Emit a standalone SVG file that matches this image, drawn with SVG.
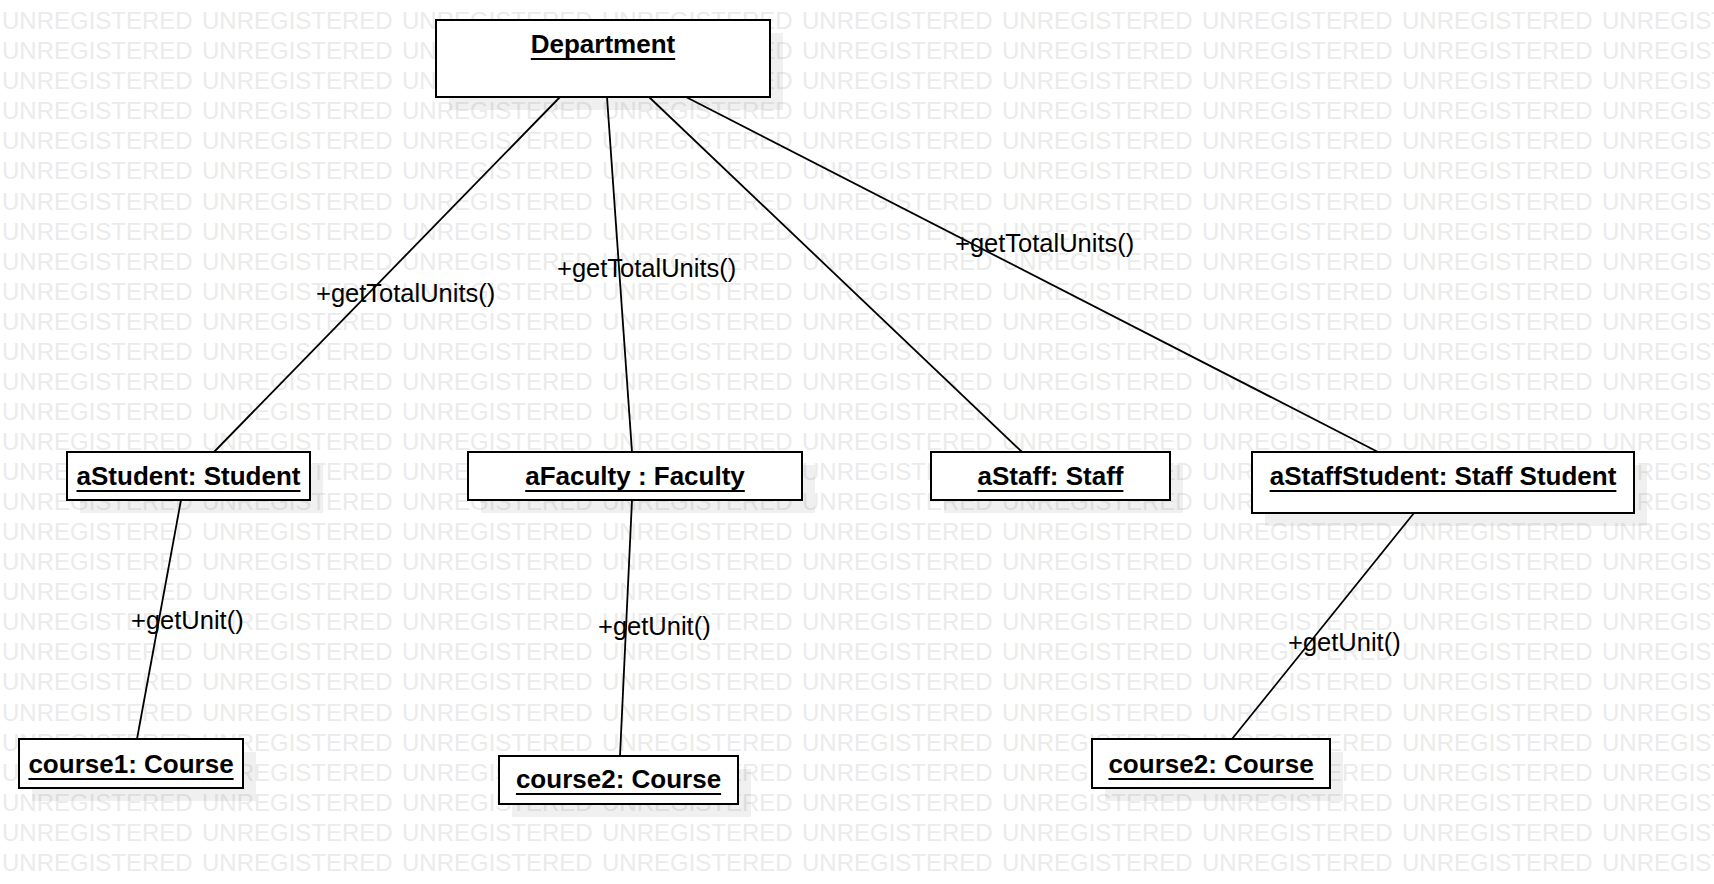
<svg xmlns="http://www.w3.org/2000/svg" xmlns:xlink="http://www.w3.org/1999/xlink" width="1714" height="884" viewBox="0 0 1714 884">
<style>
.wm{font-family:"Liberation Sans",Arial,sans-serif;font-size:24px;fill:#ebebeb}
.shadow{fill:#000;fill-opacity:0.06;stroke:none}
.box{fill:#fff;stroke:#000;stroke-width:2}
.name{font-family:"Liberation Sans",Arial,sans-serif;font-size:26px;font-weight:bold;fill:#000;text-anchor:middle}
.ul{stroke:#000;stroke-width:2}
.conn{stroke:#000;stroke-width:1.8;fill:none}
.lbl{font-family:"Liberation Sans",Arial,sans-serif;font-size:25.5px;fill:#000}
</style>
<defs>
<g id="wmrow">
<text class="wm" x="2" y="0">UNREGISTERED</text>
<text class="wm" x="202" y="0">UNREGISTERED</text>
<text class="wm" x="402" y="0">UNREGISTERED</text>
<text class="wm" x="602" y="0">UNREGISTERED</text>
<text class="wm" x="802" y="0">UNREGISTERED</text>
<text class="wm" x="1002" y="0">UNREGISTERED</text>
<text class="wm" x="1202" y="0">UNREGISTERED</text>
<text class="wm" x="1402" y="0">UNREGISTERED</text>
<text class="wm" x="1602" y="0">UNREGISTERED</text>
</g>
</defs>
<rect x="0" y="0" width="1714" height="884" fill="#fff"/>
<g id="watermark">
<use xlink:href="#wmrow" y="29"/>
<use xlink:href="#wmrow" y="59"/>
<use xlink:href="#wmrow" y="89"/>
<use xlink:href="#wmrow" y="119"/>
<use xlink:href="#wmrow" y="149"/>
<use xlink:href="#wmrow" y="179"/>
<use xlink:href="#wmrow" y="209.5"/>
<use xlink:href="#wmrow" y="239.5"/>
<use xlink:href="#wmrow" y="269.5"/>
<use xlink:href="#wmrow" y="299.5"/>
<use xlink:href="#wmrow" y="329.5"/>
<use xlink:href="#wmrow" y="359.5"/>
<use xlink:href="#wmrow" y="389.5"/>
<use xlink:href="#wmrow" y="420"/>
<use xlink:href="#wmrow" y="450"/>
<use xlink:href="#wmrow" y="480"/>
<use xlink:href="#wmrow" y="510"/>
<use xlink:href="#wmrow" y="540"/>
<use xlink:href="#wmrow" y="570"/>
<use xlink:href="#wmrow" y="600"/>
<use xlink:href="#wmrow" y="630"/>
<use xlink:href="#wmrow" y="660"/>
<use xlink:href="#wmrow" y="690"/>
<use xlink:href="#wmrow" y="720.5"/>
<use xlink:href="#wmrow" y="750.5"/>
<use xlink:href="#wmrow" y="780.5"/>
<use xlink:href="#wmrow" y="810.5"/>
<use xlink:href="#wmrow" y="840.5"/>
<use xlink:href="#wmrow" y="870.5"/>
</g>
<g id="shadows">
<rect class="shadow" x="449" y="33" width="334" height="77"/>
<rect class="shadow" x="80" y="465" width="243" height="48"/>
<rect class="shadow" x="481" y="465" width="334" height="48"/>
<rect class="shadow" x="944" y="465" width="239" height="48"/>
<rect class="shadow" x="1265" y="465" width="382" height="61"/>
<rect class="shadow" x="32" y="752" width="224" height="49"/>
<rect class="shadow" x="512" y="769" width="239" height="48"/>
<rect class="shadow" x="1105" y="752" width="238" height="49"/>
</g>
<g id="connectors">
<line class="conn" x1="560" y1="97" x2="214" y2="452"/>
<line class="conn" x1="607" y1="97" x2="632" y2="452"/>
<line class="conn" x1="649" y1="97" x2="1022" y2="452"/>
<line class="conn" x1="686" y1="97" x2="1378" y2="452"/>
<line class="conn" x1="181" y1="500" x2="137" y2="739"/>
<line class="conn" x1="632" y1="500" x2="620" y2="756"/>
<line class="conn" x1="1414" y1="513" x2="1232" y2="739"/>
<text class="lbl" x="316" y="302">+getTotalUnits()</text>
<text class="lbl" x="557" y="277">+getTotalUnits()</text>
<text class="lbl" x="955" y="252">+getTotalUnits()</text>
<text class="lbl" x="131" y="629">+getUnit()</text>
<text class="lbl" x="598" y="635">+getUnit()</text>
<text class="lbl" x="1288" y="651">+getUnit()</text>
</g>
<g id="department">
<rect class="box" x="436" y="20" width="334" height="77"/>
<text class="name" x="603" y="53">Department</text>
<line class="ul" x1="530.8" y1="59" x2="675.2" y2="59"/>
</g>
<g id="aStudent">
<rect class="box" x="67" y="452" width="243" height="48"/>
<text class="name" x="188.5" y="485">aStudent: Student</text>
<line class="ul" x1="76.5" y1="491" x2="300.5" y2="491"/>
</g>
<g id="aFaculty">
<rect class="box" x="468" y="452" width="334" height="48"/>
<text class="name" x="635" y="485">aFaculty : Faculty</text>
<line class="ul" x1="525.2" y1="491" x2="744.8" y2="491"/>
</g>
<g id="aStaff">
<rect class="box" x="931" y="452" width="239" height="48"/>
<text class="name" x="1050.5" y="485">aStaff: Staff</text>
<line class="ul" x1="977.6" y1="491" x2="1123.4" y2="491"/>
</g>
<g id="aStaffStudent">
<rect class="box" x="1252" y="452" width="382" height="61"/>
<text class="name" x="1443" y="485">aStaffStudent: Staff Student</text>
<line class="ul" x1="1269.6" y1="491" x2="1616.4" y2="491"/>
</g>
<g id="course1">
<rect class="box" x="19" y="739" width="224" height="49"/>
<text class="name" x="131" y="773">course1: Course</text>
<line class="ul" x1="28.4" y1="779" x2="233.6" y2="779"/>
</g>
<g id="course2a">
<rect class="box" x="499" y="756" width="239" height="48"/>
<text class="name" x="618.5" y="788">course2: Course</text>
<line class="ul" x1="515.9" y1="794" x2="721.1" y2="794"/>
</g>
<g id="course2b">
<rect class="box" x="1092" y="739" width="238" height="49"/>
<text class="name" x="1211" y="773">course2: Course</text>
<line class="ul" x1="1108.4" y1="779" x2="1313.6" y2="779"/>
</g>
</svg>
